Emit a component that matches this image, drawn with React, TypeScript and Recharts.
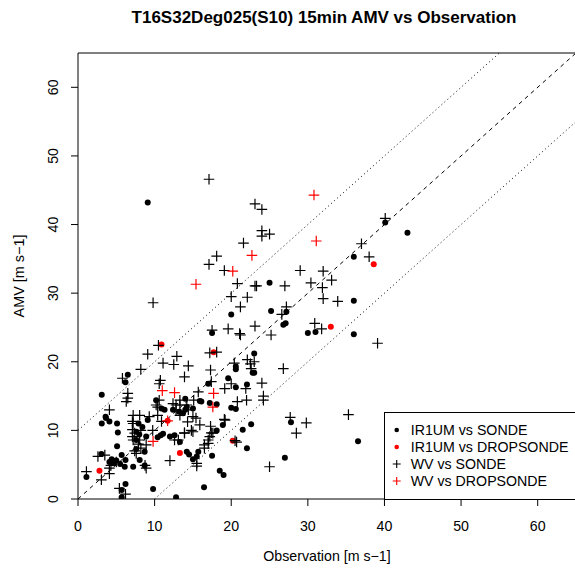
import React from 'react'
import {
    ScatterChart,
    Scatter,
    XAxis,
    YAxis,
    ReferenceLine,
    ReferenceArea,
    Legend,
    Label
} from 'recharts'

const FONT = '"Liberation Sans", Arial, Helvetica, sans-serif'

const axisTicks = [0, 10, 20, 30, 40, 50, 60]
const legendLabels = ['IR1UM vs SONDE', 'IR1UM vs DROPSONDE', 'WV vs SONDE', 'WV vs DROPSONDE']

// [observation, amv]
const irSonde = [
    [1.1, 3.2], [3.05, 6.55], [3.6, 12.0], [3.1, 11.0], [4.1, 11.3], [5.1, 11.0], [5.2, 9.7], [5.1, 7.7],
    [4.1, 5.4], [4.6, 5.2], [5.0, 5.6], [5.7, 6.4], [6.2, 5.7], [6.1, 4.7], [7.2, 4.7], [6.2, 2.2],
    [5.7, 1.3], [5.7, 0.25], [7.6, 7.3], [7.6, 8.6], [7.6, 9.8], [8.05, 5.7], [8.7, 4.9], [8.7, 6.9],
    [8.9, 9.1], [9.1, 11.5], [9.8, 1.45], [10.4, 9.0], [10.8, 9.3], [11.1, 9.5], [12.0, 9.1], [12.6, 9.3],
    [12.8, 0.25], [13.3, 8.3], [14.2, 6.9], [15.0, 5.8], [15.5, 6.2], [15.7, 6.9], [16.45, 1.7], [17.5, 6.3],
    [18.1, 10.0], [18.9, 10.8], [18.5, 4.1], [19.0, 3.5], [20.0, 13.3], [13.2, 12.7], [13.7, 12.5], [14.2, 13.4],
    [15.0, 13.2], [16.1, 14.2], [17.2, 14.0], [10.9, 13.2], [11.3, 13.0], [6.5, 18.1], [6.2, 17.0], [3.1, 15.2],
    [3.65, 11.8], [10.2, 14.4], [4.4, 5.8], [5.5, 5.1], [8.0, 9.4], [8.4, 10.5], [7.9, 11.0], [17.5, 24.2],
    [20.6, 19.3], [20.6, 18.9], [22.8, 18.4], [19.6, 17.6], [17.0, 16.8], [22.05, 16.7], [20.6, 16.3], [15.9, 14.3],
    [18.1, 13.8], [20.6, 13.1], [22.6, 10.9], [21.5, 10.1], [14.0, 14.6], [14.0, 13.0], [14.5, 6.5], [22.05, 7.4],
    [12.4, 13.0], [30.0, 24.2], [31.0, 24.35], [23.0, 21.2], [23.0, 18.4], [27.8, 11.2], [27.0, 6.0], [40.1, 40.3],
    [43.0, 38.8], [36.0, 35.3], [36.0, 28.9], [36.0, 24.0], [36.55, 8.4], [25.0, 31.5], [20.0, 26.9], [25.2, 27.4],
    [27.2, 27.3], [26.8, 25.4], [27.1, 25.6], [9.1, 43.2]
]

const irDrop = [
    [2.8, 4.1], [10.9, 22.5], [13.3, 6.7], [17.7, 21.4], [11.7, 11.4], [20.2, 8.5], [33.0, 25.1], [38.6, 34.2]
]

const wvSonde = [
    [1.1, 4.0], [2.6, 6.2], [3.5, 6.4], [3.05, 2.8], [4.1, 3.7], [4.1, 4.5], [4.3, 4.9], [5.0, 5.4],
    [4.1, 13.0], [6.3, 14.2], [7.2, 12.2], [8.05, 12.2], [7.2, 11.0], [7.4, 9.6], [7.2, 8.6], [7.9, 8.0],
    [7.6, 6.65], [8.05, 8.6], [8.75, 4.9], [8.9, 4.5], [5.4, 1.55], [6.2, 0.7], [12.0, 5.6], [13.9, 9.6],
    [15.0, 9.8], [15.5, 5.2], [15.9, 10.8], [16.5, 7.4], [17.2, 9.1], [17.6, 9.6], [17.0, 8.1], [19.2, 11.5],
    [15.0, 12.0], [10.9, 11.3], [10.2, 13.7], [10.4, 12.2], [12.4, 13.9], [12.8, 13.7], [14.2, 13.7], [14.4, 13.0],
    [12.8, 13.0], [13.3, 12.2], [20.7, 8.3], [10.5, 22.4], [9.1, 21.1], [8.2, 18.9], [5.8, 17.6], [6.5, 15.4],
    [6.5, 14.7], [7.1, 11.3], [7.1, 10.1], [7.1, 9.1], [8.2, 10.0], [10.6, 16.8], [10.6, 14.4], [10.4, 13.4],
    [9.75, 10.0], [7.4, 7.0], [8.2, 7.4], [8.9, 7.9], [9.3, 12.0], [11.1, 19.8], [10.75, 17.3], [21.2, 23.9],
    [12.9, 20.8], [17.2, 21.3], [18.1, 21.4], [12.5, 19.6], [14.4, 19.4], [13.9, 17.8], [17.3, 18.8], [17.4, 17.1],
    [20.4, 19.8], [20.0, 16.8], [22.1, 20.3], [22.5, 19.7], [19.15, 16.1], [21.9, 16.1], [15.7, 15.6], [20.8, 14.2],
    [22.0, 14.4], [15.1, 14.4], [13.3, 14.4], [13.3, 13.7], [15.4, 11.8], [14.3, 11.25], [19.1, 11.6], [17.3, 10.6],
    [14.8, 10.0], [13.9, 9.65], [17.4, 9.65], [17.0, 8.6], [16.5, 7.9], [20.5, 8.5], [15.5, 4.8], [12.6, 8.6],
    [13.1, 8.6], [17.5, 24.6], [25.2, 23.9], [23.0, 20.0], [22.6, 19.0], [26.8, 19.0], [24.0, 16.9], [24.2, 15.0],
    [24.2, 14.4], [27.7, 11.9], [29.8, 11.1], [28.5, 9.6], [25.0, 4.7], [40.1, 40.9], [37.0, 37.2], [38.0, 35.3],
    [33.1, 31.9], [33.9, 28.8], [39.1, 22.7], [35.3, 12.3], [17.1, 46.6], [23.1, 43.0], [24.0, 42.2], [24.0, 39.1],
    [25.0, 38.6], [24.0, 38.3], [21.6, 37.3], [18.1, 35.4], [17.1, 34.2], [19.1, 33.3], [20.8, 31.4], [23.1, 31.05],
    [23.3, 31.05], [27.0, 31.05], [29.0, 33.3], [32.0, 33.2], [30.4, 31.5], [31.9, 30.8], [32.0, 29.2], [20.0, 29.5],
    [22.1, 29.4], [21.2, 28.0], [27.2, 28.0], [26.6, 26.9], [30.9, 25.6], [19.6, 24.8], [23.1, 25.2], [21.1, 24.1],
    [31.8, 24.8], [9.8, 28.6]
]

const wvDrop = [
    [15.4, 31.3], [30.8, 44.3], [31.1, 37.6], [22.7, 35.5], [20.2, 33.2], [9.8, 8.4], [11.7, 11.4], [17.6, 13.4],
    [11.0, 15.8], [12.6, 15.5], [17.7, 15.4]
]

const toPoints = (pairs: number[][]) => pairs.map(([x, y]) => ({ x, y }))

const makeDot = (color: string, r = 3) => (props: any) => (
    <circle cx={props.cx} cy={props.cy} r={r} fill={color} />
)

const makeCross = (color: string, h = 5.3) => (props: any) => (
    <path
        d={`M${props.cx - h},${props.cy}H${props.cx + h}M${props.cx},${props.cy - h}V${props.cy + h}`}
        stroke={color}
        strokeWidth={1.2}
        fill="none"
    />
)

const XTick = ({ x, y, payload }: any) => (
    <text x={x} y={y + 23} textAnchor="middle" fontSize={14.2} fontFamily={FONT} fill="#000">
        {payload.value}
    </text>
)

const YTick = ({ x, y, payload }: any) => (
    <text
        x={x - 11}
        y={y}
        transform={`rotate(-90, ${x - 11}, ${y})`}
        textAnchor="middle"
        fontSize={14.2}
        fontFamily={FONT}
        fill="#000"
    >
        {payload.value}
    </text>
)

const LegendBox = () => (
    <svg width={200} height={88} style={{ display: 'block' }}>
        <rect x={0.5} y={0.5} width={199} height={87} fill="#fff" stroke="#000" />
        {legendLabels.map((label, i) => {
            const cy = 18 + i * 17
            const red = i % 2 === 1
            const color = red ? '#ff0000' : '#000'
            return (
                <g key={label}>
                    {i < 2 ? (
                        <circle cx={12.7} cy={cy} r={2.3} fill={color} />
                    ) : (
                        <path d={`M8.7,${cy}H16.7M12.7,${cy - 4}V${cy + 4}`} stroke={color} strokeWidth={1.1} />
                    )}
                    <text x={26.7} y={cy + 5} fontSize={14.2} fontFamily={FONT} fill="#000">
                        {label}
                    </text>
                </g>
            )
        })}
    </svg>
)

export default function App() {
    return (
        <div style={{ position: 'relative', width: 575, height: 569, overflow: 'hidden', background: '#fff' }}>
            <style>{'body{margin:0}'}</style>
            <div
                style={{
                    position: 'absolute',
                    top: 8,
                    left: 0,
                    width: 648,
                    textAlign: 'center',
                    fontFamily: FONT,
                    fontWeight: 'bold',
                    fontSize: 17,
                    lineHeight: '20px',
                    zIndex: 2
                }}
            >
                T16S32Deg025(S10) 15min AMV vs Observation
            </div>
            <ScatterChart width={580} height={569} margin={{ top: 53, right: 4, bottom: 0, left: 0 }}>
                <XAxis
                    type="number"
                    dataKey="x"
                    domain={[0, 65]}
                    ticks={axisTicks}
                    allowDataOverflow
                    axisLine={false}
                    tickSize={7}
                    stroke="#000"
                    height={70}
                    tick={<XTick />}
                    interval={0}
                >
                    <Label
                        content={() => (
                            <text x={327} y={561} textAnchor="middle" fontSize={14.2} fontFamily={FONT} fill="#000">
                                Observation [m s−1]
                            </text>
                        )}
                    />
                </XAxis>
                <YAxis
                    type="number"
                    dataKey="y"
                    domain={[0, 65]}
                    ticks={axisTicks}
                    allowDataOverflow
                    axisLine={false}
                    tickSize={7}
                    stroke="#000"
                    width={78}
                    tick={<YTick />}
                    interval={0}
                >
                    <Label
                        content={() => (
                            <text
                                x={24}
                                y={276}
                                transform="rotate(-90, 24, 276)"
                                textAnchor="middle"
                                fontSize={14.4}
                                fontFamily={FONT}
                                fill="#000"
                            >
                                AMV [m s−1]
                            </text>
                        )}
                    />
                </YAxis>
                <ReferenceLine segment={[{ x: 0, y: 0 }, { x: 65, y: 65 }]} stroke="#000" strokeDasharray="4 4" />
                <ReferenceLine segment={[{ x: 0, y: 10 }, { x: 55, y: 65 }]} stroke="#000" strokeDasharray="1 3" />
                <ReferenceLine segment={[{ x: 10, y: 0 }, { x: 65, y: 55 }]} stroke="#000" strokeDasharray="1 3" />
                <Scatter data={toPoints(irSonde)} shape={makeDot('#000')} isAnimationActive={false} />
                <Scatter data={toPoints(irDrop)} shape={makeDot('#ff0000')} isAnimationActive={false} />
                <Scatter data={toPoints(wvSonde)} shape={makeCross('#000')} isAnimationActive={false} />
                <Scatter data={toPoints(wvDrop)} shape={makeCross('#ff0000')} isAnimationActive={false} />
                <ReferenceArea x1={0} x2={65} y1={0} y2={65} fill="none" stroke="#000" strokeWidth={1} />
                <Legend
                    layout="vertical"
                    align="center"
                    verticalAlign="middle"
                    content={<LegendBox />}
                    wrapperStyle={{ left: 384, top: 412, width: 200, height: 88 }}
                />
            </ScatterChart>
        </div>
    )
}
